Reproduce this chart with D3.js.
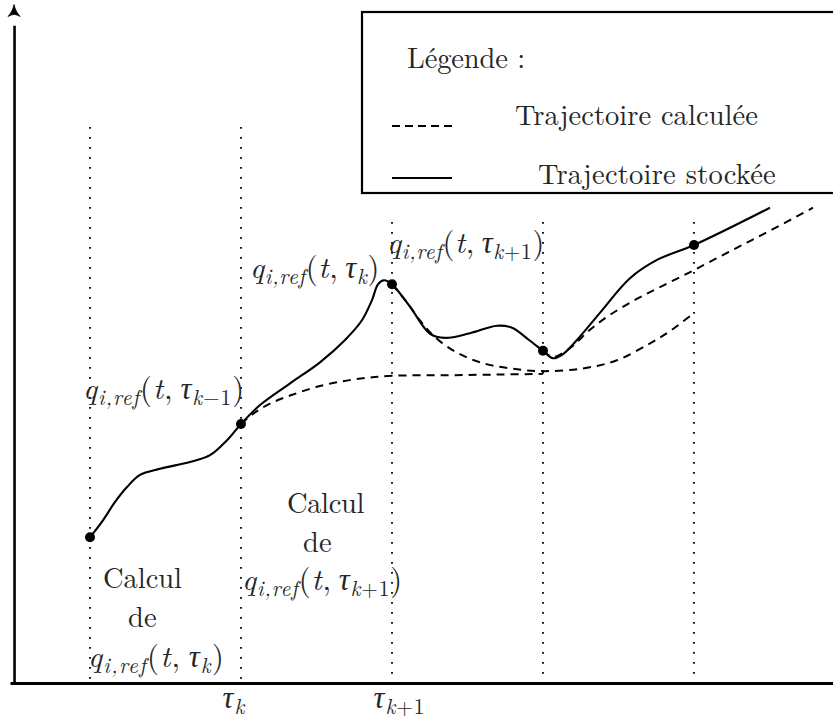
<!DOCTYPE html>
<html><head><meta charset="utf-8">
<script src="https://cdn.jsdelivr.net/npm/d3@7"></script>
<style>body{margin:0;background:#fff}svg{display:block}</style>
</head><body>
<svg id="c" width="833" height="719"></svg>
<script>
// ---------- data (t in units of the sampling period, v in arbitrary position units) ----------
const tauSteps = [0, 1, 2, 3, 4];
const guideTopV = [82.0, 82.0, 68.0, 68.0, 68.0];
const tauTicks = [1, 2];
const tauTickSubs = ["k", "k+1"];

const storedT = [0, 0.086, 0.166, 0.245, 0.331, 0.464, 0.662, 0.795, 0.907, 1.0, 1.126, 1.325, 1.523, 1.689, 1.801, 1.868, 1.907, 1.947, 2.0, 2.119, 2.252, 2.351, 2.517, 2.695, 2.795, 2.901, 3.0, 3.066, 3.126, 3.225, 3.377, 3.576, 3.755, 4.0, 4.503];
const storedV = [21.5, 24.0, 26.7, 28.9, 30.7, 31.6, 32.6, 33.6, 35.8, 38.2, 41.0, 44.2, 47.3, 50.6, 53.5, 56.5, 58.8, 59.4, 58.8, 55.5, 51.5, 50.9, 51.6, 52.7, 52.4, 50.7, 49.0, 47.9, 48.4, 50.6, 54.6, 59.7, 62.4, 64.6, 70.1];

const calcAT = [1.0, 1.093, 1.192, 1.325, 1.523, 1.755, 2.0, 2.384, 2.715, 3.0];
const calcAV = [38.2, 39.9, 41.2, 42.4, 43.8, 44.8, 45.3, 45.4, 45.5, 45.6];

const calcBT = [2.0, 2.086, 2.185, 2.285, 2.417, 2.583, 2.781, 3.0, 3.265, 3.490, 3.709, 3.854, 4.0];
const calcBV = [58.8, 56.5, 53.5, 51.0, 48.9, 47.3, 46.4, 46.0, 46.4, 47.6, 50.1, 52.1, 54.6];

const calcCT = [3.0, 3.066, 3.179, 3.311, 3.444, 3.609, 3.775, 4.0, 4.258, 4.503, 4.788];
const calcCV = [49.0, 48.1, 49.4, 52.1, 54.3, 56.5, 58.4, 60.9, 63.9, 66.7, 70.1];

const storedDotV = [21.5, 38.2, 58.8, 49.0, 64.6];

const legendTitle = "Légende :";
const legendLabels = ["Trajectoire calculée", "Trajectoire stockée"];

// ---------- layout ----------
const svg = d3.select("#c");
const FONT = '"Latin Modern Roman", "Liberation Serif"';
const INK = "#262626";
const FS = 28.5;   // plain text
const MS = 30.5;   // math text
const x = d3.scaleLinear().domain([0, 4]).range([90, 694]);
const y = d3.scaleLinear().domain([0, 100]).range([683, 5]);

const zip = (a, b) => a.map((d, i) => [d, b[i]]);
const line = d3.line().x(d => x(d[0])).y(d => y(d[1])).curve(d3.curveCatmullRom.alpha(0.5));

function styleText(sel, size) {
  return sel.style("font-family", FONT).style("font-size", size + "px").style("fill", INK);
}
function fit(sel, target) {
  const n = sel.text().length;
  const w = sel.node().getComputedTextLength();
  const ls = Math.max(-1.5, Math.min(1.8, (target - w) / n));
  sel.style("letter-spacing", ls.toFixed(2) + "px");
}

// dotted guides
svg.append("g").selectAll("line").data(tauSteps).join("line")
  .attr("x1", d => x(d)).attr("x2", d => x(d))
  .attr("y1", (d, i) => y(guideTopV[i])).attr("y2", y(0))
  .attr("stroke", "#000").attr("stroke-width", 1.8)
  .attr("stroke-dasharray", "1.8,8.2");

// x axis
const xAxisScale = d3.scaleLinear().domain([x.invert(10), x.invert(840)]).range([10, 840]);
const xAxis = svg.append("g").attr("transform", `translate(0,${y(0)})`)
  .call(d3.axisBottom(xAxisScale).tickValues(tauTicks).tickSize(0).tickSizeOuter(0).tickFormat(""));
xAxis.select(".domain").attr("stroke", "#000").attr("stroke-width", 2.8);

// y axis
const yAxisScale = d3.scaleLinear().domain([0, 97]).range([y(0) + 1.4, y(97)]);
const yAxis = svg.append("g").attr("transform", `translate(${x(-0.503)},0)`)
  .call(d3.axisLeft(yAxisScale).tickValues([]).tickSizeOuter(0));
yAxis.select(".domain").attr("stroke", "#000").attr("stroke-width", 2.6);
const ax = x(-0.503), ay = y(100) - 0.5;
svg.append("path")
  .attr("d", `M${ax},${ay} C${ax+1},${ay+5} ${ax+3},${ay+8.5} ${ax+6},${ay+12} C${ax+3.5},${ay+10.5} ${ax+1.5},${ay+10} ${ax},${ay+10} C${ax-1.5},${ay+10} ${ax-3.5},${ay+10.5} ${ax-6},${ay+12} C${ax-3},${ay+8.5} ${ax-1},${ay+5} ${ax},${ay} Z`)
  .attr("fill", "#000").attr("stroke", "#000").attr("stroke-width", 0.8).attr("stroke-linejoin", "round");

// math text helper
function mathText(sel, segs, size) {
  let sub = false;
  const shift = size * 0.2;
  segs.forEach(s => {
    const t = sel.append("tspan").text(s.t)
      .style("font-family", FONT).style("fill", INK)
      .style("font-style", s.it ? "italic" : "normal")
      .style("font-size", (s.sub ? size * 0.7 : size) + "px");
    if (s.sub && !sub) t.attr("dy", shift);
    if (!s.sub && sub) t.attr("dy", -shift);
    sub = !!s.sub;
  });
}
function subSegs(sub) {
  const m = sub.match(/^(k)(.*)$/);
  const out = [{ t: m[1], it: true, sub: true }];
  if (m[2]) out.push({ t: m[2].replace("-", "\u2212"), sub: true });
  return out;
}
xAxis.selectAll(".tick text").each(function(d, i) {
  const t = styleText(d3.select(this).text(null), MS)
    .attr("x", -19).attr("y", 25).attr("dy", null)
    .attr("text-anchor", "start");
  mathText(t, [{ t: "τ", it: true }, ...subSegs(tauTickSubs[i])], MS);
  fit(t, i === 0 ? 23 : 52);
});

// curves
const g = svg.append("g").attr("fill", "none").attr("stroke", "#000");
g.append("path").attr("d", line(zip(calcAT, calcAV))).attr("stroke-width", 2).attr("stroke-dasharray", "8,6");
g.append("path").attr("d", line(zip(calcBT, calcBV))).attr("stroke-width", 2).attr("stroke-dasharray", "8,6");
g.append("path").attr("d", line(zip(calcCT, calcCV))).attr("stroke-width", 2).attr("stroke-dasharray", "8,6");
g.append("path").attr("d", line(zip(storedT, storedV))).attr("stroke-width", 2.1);

svg.append("g").selectAll("circle").data(tauSteps).join("circle")
  .attr("cx", d => x(d)).attr("cy", (d, i) => y(storedDotV[i])).attr("r", 5).attr("fill", "#000");

// annotations
const labels = svg.append("g");
function qLabel(px, py, sub, w) {
  const t = styleText(labels.append("text"), MS).attr("x", px).attr("y", py);
  mathText(t, [
    { t: "q", it: true }, { t: "i,ref", it: true, sub: true },
    { t: "(" }, { t: "t", it: true }, { t: ",\u2009" }, { t: "τ", it: true },
    ...subSegs(sub), { t: ")" }
  ], MS);
  fit(t, w);
}
qLabel(83, 399, "k-1", 162);
qLabel(250, 278, "k", 130);
qLabel(387, 253, "k+1", 158);
qLabel(242, 590, "k+1", 161);
qLabel(88, 667, "k", 137);

function plain(parent, px, py, s, w) {
  const t = styleText(parent.append("text"), FS).attr("x", px).attr("y", py).text(s);
  fit(t, w);
}
plain(labels, 103, 588, "Calcul", 79);
plain(labels, 128, 627, "de", 29);
plain(labels, 287, 513, "Calcul", 77);
plain(labels, 303, 552, "de", 29);

// legend
const lg = svg.append("g");
lg.append("rect").attr("x", 362).attr("y", 12).attr("width", 500).attr("height", 181)
  .attr("fill", "#fff").attr("stroke", "#000").attr("stroke-width", 2.2);
plain(lg, 407, 68, legendTitle, 118);
plain(lg, 515, 125, legendLabels[0], 243);
plain(lg, 538, 184, legendLabels[1], 238);
lg.append("line").attr("x1", 392).attr("x2", 452).attr("y1", 126).attr("y2", 126)
  .attr("stroke", "#000").attr("stroke-width", 2).attr("stroke-dasharray", "8,5");
lg.append("line").attr("x1", 392).attr("x2", 452).attr("y1", 178).attr("y2", 178)
  .attr("stroke", "#000").attr("stroke-width", 2.1);
</script>
</body></html>
